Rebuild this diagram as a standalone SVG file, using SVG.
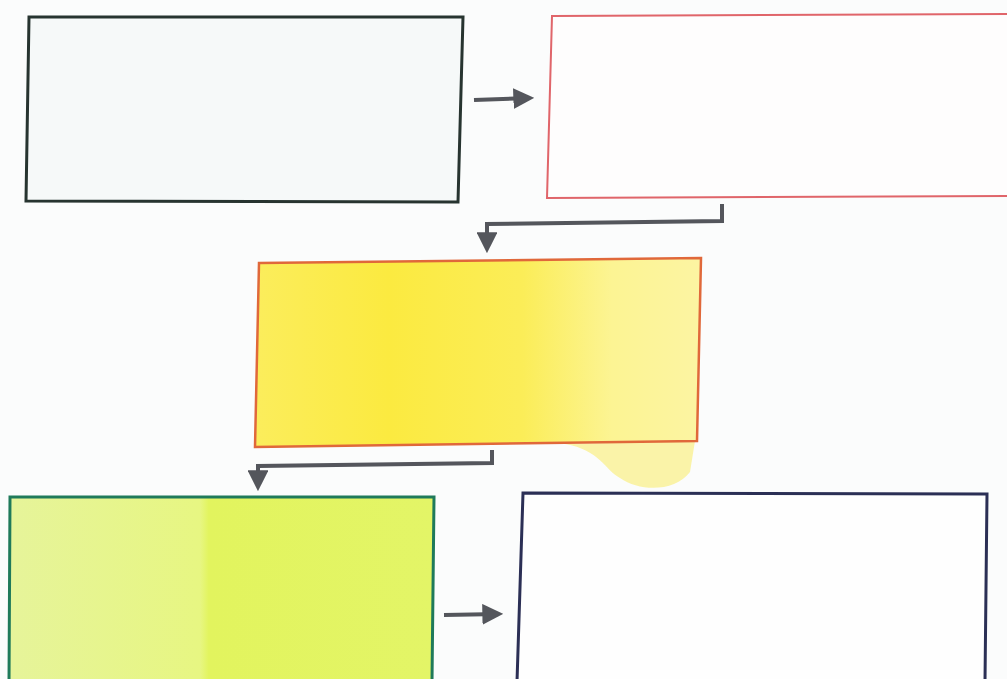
<svg xmlns="http://www.w3.org/2000/svg" width="1007" height="679" viewBox="0 0 1007 679">
<style>
.box{stroke-width:3;stroke-linejoin:miter}
.conn{fill:none;stroke:#54565c;stroke-width:4;stroke-linecap:butt;stroke-linejoin:miter}
</style>
<defs>
<marker id="ah" viewBox="0 0 10 10" refX="8" refY="5" markerWidth="5.2" markerHeight="5.2" orient="auto" markerUnits="strokeWidth">
<path d="M0,0 L10,5 L0,10 Z" fill="#54565c"/>
</marker>
<linearGradient id="gy" x1="0" y1="0" x2="1" y2="0">
<stop offset="0" stop-color="#fbed5c"/>
<stop offset="0.3" stop-color="#fbea40"/>
<stop offset="0.6" stop-color="#fbed58"/>
<stop offset="0.8" stop-color="#fcf493"/>
<stop offset="1" stop-color="#fcf4a2"/>
</linearGradient>
<linearGradient id="gg" x1="0" y1="0" x2="1" y2="0">
<stop offset="0" stop-color="#e6f49a"/>
<stop offset="0.45" stop-color="#e7f682"/>
<stop offset="0.47" stop-color="#e2f45e"/>
<stop offset="1" stop-color="#e3f567"/>
</linearGradient>
</defs>
<rect width="1007" height="679" fill="#fbfcfc"/>
<g id="node1">
<polygon class="box" points="29,17 463,17 458,202 26,201" fill="#f6f9f9" stroke="#273430"/>
</g>
<g id="node2">
<polygon class="box" points="552,16 1010,14 1010,196 547,198" fill="#fefdfd" stroke="#e0656a" style="stroke-width:2"/>
</g>
<g id="node3">
<path d="M565,444 C600,450 605,470 620,478 C640,492 675,492 690,472 L695,441 Z" fill="#faf3a8"/>
<polygon class="box" points="259,263 701,258 697,441 255,447" fill="url(#gy)" stroke="#e0683a" style="stroke-width:2.5"/>
</g>
<g id="node4">
<polygon class="box" points="10,497 434,497 432,682 9,682" fill="url(#gg)" stroke="#1f7a5a"/>
</g>
<g id="node5">
<polygon class="box" points="523,493 987,494 985,682 517,682" fill="#fefefe" stroke="#2b2f55"/>
</g>
<g id="connectors">
<path class="conn" d="M474,100 L530,98" marker-end="url(#ah)"/>
<path class="conn" d="M722,204 L722,221 L487,224 L487,249" marker-end="url(#ah)"/>
<path class="conn" d="M492,450 L492,463 L258,466 L258,487" marker-end="url(#ah)"/>
<path class="conn" d="M444,615 L499,614" marker-end="url(#ah)"/>
</g>
</svg>
